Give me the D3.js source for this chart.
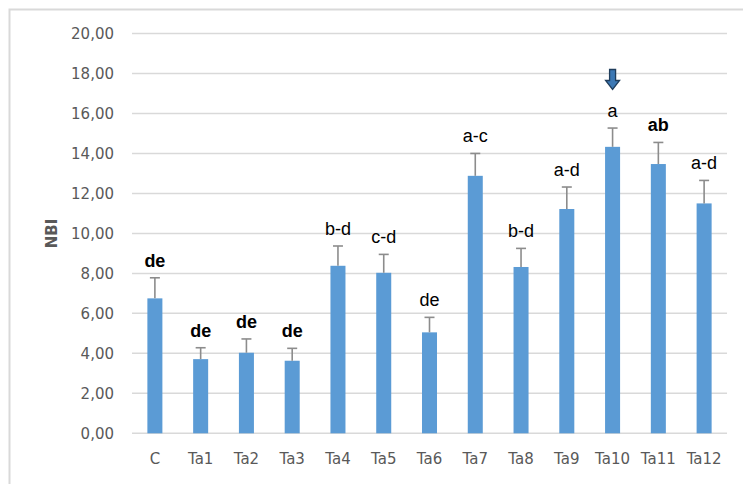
<!DOCTYPE html>
<html>
<head>
<meta charset="utf-8">
<script src="https://cdn.jsdelivr.net/npm/d3@7"></script>
<style>
  html, body { margin: 0; padding: 0; background: #ffffff; }
  svg { display: block; }
</style>
</head>
<body>
<svg id="chart" width="743" height="484"></svg>
<script>
// ---- data ----
const categories = ["C", "Ta1", "Ta2", "Ta3", "Ta4", "Ta5", "Ta6", "Ta7", "Ta8", "Ta9", "Ta10", "Ta11", "Ta12"];
const nbiMeans   = [6.75, 3.71, 4.03, 3.63, 8.38, 8.03, 5.05, 12.88, 8.32, 11.22, 14.33, 13.47, 11.50];
const nbiErrors  = [1.03, 0.57, 0.69, 0.62, 0.99, 0.92, 0.75, 1.12, 0.93, 1.10, 0.94, 1.08, 1.15];
const groupLetters = ["de", "de", "de", "de", "b-d", "c-d", "de", "a-c", "b-d", "a-d", "a", "ab", "a-d"];
const yTicks = [0, 2, 4, 6, 8, 10, 12, 14, 16, 18, 20];
const yTitle = "NBI";
const highlighted = "Ta10";

// ---- layout ----
const svg = d3.select("#chart");
const plot = { left: 132, right: 727, top: 33.5, bottom: 433.3 };

// outer chart-area border (left and top only visible)
svg.append("path")
  .attr("d", `M9.5,484 V9.5 H743`)
  .attr("fill", "none")
  .attr("stroke", "#d9d9d9")
  .attr("stroke-width", 2);

const x = d3.scaleBand()
  .domain(categories)
  .range([plot.left, plot.right])
  .paddingInner(0.672)
  .paddingOuter(0.336);

const y = d3.scaleLinear()
  .domain([0, 20])
  .range([plot.bottom, plot.top]);

// gridlines
svg.append("g")
  .selectAll("line")
  .data(yTicks)
  .join("line")
  .attr("x1", plot.left)
  .attr("x2", plot.right)
  .attr("y1", d => y(d))
  .attr("y2", d => y(d))
  .attr("stroke", "#d9d9d9")
  .attr("stroke-width", 1.5);

// y axis (labels only)
const yAxis = d3.axisLeft(y)
  .tickValues(yTicks)
  .tickSize(0)
  .tickPadding(0)
  .tickFormat(d => d.toFixed(2).replace(".", ","));
const gy = svg.append("g")
  .attr("transform", `translate(${plot.left - 18},0)`)
  .call(yAxis);
gy.select(".domain").remove();
gy.selectAll("text")
  .attr("font-family", "DejaVu Sans, sans-serif")
  .attr("font-size", 15)
  .attr("fill", "#595959");

// x axis (labels only)
const xAxis = d3.axisBottom(x).tickSize(0).tickPadding(0);
const gx = svg.append("g")
  .attr("transform", `translate(0,${plot.bottom + 20})`)
  .call(xAxis);
gx.select(".domain").remove();
gx.selectAll("text")
  .attr("font-family", "DejaVu Sans, sans-serif")
  .attr("font-size", 15)
  .attr("fill", "#595959");

// y title
svg.append("text")
  .attr("transform", `translate(57,${(plot.top + plot.bottom) / 2}) rotate(-90)`)
  .attr("text-anchor", "middle")
  .attr("font-family", "DejaVu Sans, sans-serif")
  .attr("font-size", 15)
  .attr("font-weight", "bold")
  .attr("fill", "#595959")
  .text(yTitle);

const rows = categories.map((c, i) => ({ c, v: nbiMeans[i], e: nbiErrors[i], lab: groupLetters[i] }));

// bars
svg.append("g")
  .selectAll("rect")
  .data(rows)
  .join("rect")
  .attr("x", d => x(d.c))
  .attr("width", x.bandwidth())
  .attr("y", d => y(d.v))
  .attr("height", d => y(0) - y(d.v))
  .attr("fill", "#5b9bd5");

// error bars (upper only)
const eb = svg.append("g").attr("stroke", "#8c8c8c").attr("stroke-width", 1.6);
eb.selectAll("line.stem")
  .data(rows)
  .join("line")
  .attr("class", "stem")
  .attr("x1", d => x(d.c) + x.bandwidth() / 2)
  .attr("x2", d => x(d.c) + x.bandwidth() / 2)
  .attr("y1", d => y(d.v))
  .attr("y2", d => y(d.v + d.e));
eb.selectAll("line.cap")
  .data(rows)
  .join("line")
  .attr("class", "cap")
  .attr("x1", d => x(d.c) + x.bandwidth() / 2 - 5)
  .attr("x2", d => x(d.c) + x.bandwidth() / 2 + 5)
  .attr("y1", d => y(d.v + d.e))
  .attr("y2", d => y(d.v + d.e));

// letters
const boldSet = new Set(["C", "Ta1", "Ta2", "Ta3", "Ta11"]);
svg.append("g")
  .selectAll("text")
  .data(rows)
  .join("text")
  .attr("x", d => x(d.c) + x.bandwidth() / 2)
  .attr("y", d => y(d.v + d.e) - 11)
  .attr("text-anchor", "middle")
  .attr("font-family", "Liberation Sans, Arial, sans-serif")
  .attr("font-size", 18)
  .attr("font-weight", d => boldSet.has(d.c) ? "bold" : "normal")
  .attr("fill", "#000000")
  .text(d => d.lab);

// highlight arrow above Ta10
const ax = x(highlighted) + x.bandwidth() / 2;
const ay = 69.5;
svg.append("path")
  .attr("d", `M${ax - 3},${ay} H${ax + 3} V${ay + 11} H${ax + 7} L${ax},${ay + 20} L${ax - 7},${ay + 11} H${ax - 3} Z`)
  .attr("fill", "#3c78b4")
  .attr("stroke", "#1f3d5c")
  .attr("stroke-width", 1.3)
  .attr("stroke-linejoin", "miter");
</script>
</body>
</html>
